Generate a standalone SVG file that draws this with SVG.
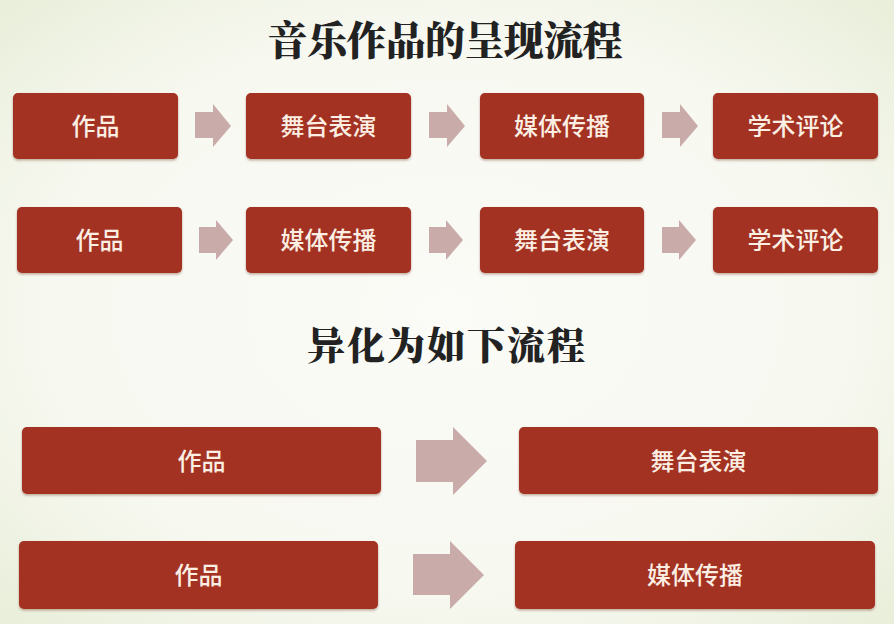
<svg xmlns="http://www.w3.org/2000/svg" width="894" height="624" viewBox="0 0 894 624">
<defs>
<radialGradient id="bg" cx="0.5" cy="0.5" r="0.75">
<stop offset="0" stop-color="#fbfbf7"/>
<stop offset="0.6" stop-color="#f7f8f0"/>
<stop offset="1" stop-color="#e6edd6"/>
</radialGradient>
<filter id="sh" x="-5%" y="-10%" width="110%" height="125%">
<feDropShadow dx="0" dy="1.5" stdDeviation="1.2" flood-color="#5a1a10" flood-opacity="0.35"/>
</filter>
</defs>
<style>
.box{fill:#a33020;filter:url(#sh)}
.lbl{fill:#fbeee2;font-family:"Noto Sans CJK SC","Noto Sans",sans-serif;font-size:24px;font-weight:500;text-anchor:middle;dominant-baseline:central}
.arr{fill:#c9acaa}
.title{fill:#222;font-family:"Noto Serif CJK SC","Noto Sans CJK SC",serif;font-weight:900;text-anchor:middle}
</style>
<rect width="894" height="624" fill="url(#bg)"/>
<text class="title" x="445" y="55" font-size="40" textLength="355" lengthAdjust="spacing">音乐作品的呈现流程</text>
<text class="title" x="446" y="359" font-size="38" textLength="278" lengthAdjust="spacing">异化为如下流程</text>

<g id="connectors">
<polygon class="arr" points="195,112 213,112 213,104 231,126 213,147 213,138 195,138"/>
<polygon class="arr" points="429,112 447,112 447,104 465,126 447,147 447,138 429,138"/>
<polygon class="arr" points="662,112 680,112 680,104 698,126 680,147 680,138 662,138"/>
<polygon class="arr" points="199,227 216,227 216,220 233,240 216,260 216,253 199,253"/>
<polygon class="arr" points="429,227 446,227 446,220 463,240 446,260 446,253 429,253"/>
<polygon class="arr" points="662,227 679,227 679,220 696,240 679,260 679,253 662,253"/>
<polygon class="arr" points="416,440 453,440 453,427 487,461 453,495 453,482 416,482"/>
<polygon class="arr" points="413,554 450,554 450,541 484,575 450,609 450,595 413,595"/>
</g>

<g id="n1"><rect class="box" x="13" y="93" width="165" height="66" rx="5"/><text class="lbl" x="95.5" y="124">作品</text></g>
<g id="n2"><rect class="box" x="246" y="93" width="165" height="66" rx="5"/><text class="lbl" x="328.5" y="124">舞台表演</text></g>
<g id="n3"><rect class="box" x="480" y="93" width="164" height="66" rx="5"/><text class="lbl" x="562" y="124">媒体传播</text></g>
<g id="n4"><rect class="box" x="713" y="93" width="165" height="66" rx="5"/><text class="lbl" x="795.5" y="124">学术评论</text></g>

<g id="n5"><rect class="box" x="17" y="207" width="165" height="66" rx="5"/><text class="lbl" x="99.5" y="238">作品</text></g>
<g id="n6"><rect class="box" x="246" y="207" width="165" height="66" rx="5"/><text class="lbl" x="328.5" y="238">媒体传播</text></g>
<g id="n7"><rect class="box" x="480" y="207" width="164" height="66" rx="5"/><text class="lbl" x="562" y="238">舞台表演</text></g>
<g id="n8"><rect class="box" x="713" y="207" width="165" height="66" rx="5"/><text class="lbl" x="795.5" y="238">学术评论</text></g>

<g id="n9"><rect class="box" x="22" y="427" width="359" height="67" rx="5"/><text class="lbl" x="201.5" y="459">作品</text></g>
<g id="n10"><rect class="box" x="519" y="427" width="359" height="67" rx="5"/><text class="lbl" x="698.5" y="459">舞台表演</text></g>
<g id="n11"><rect class="box" x="19" y="541" width="359" height="68" rx="5"/><text class="lbl" x="198.5" y="573">作品</text></g>
<g id="n12"><rect class="box" x="515" y="541" width="360" height="68" rx="5"/><text class="lbl" x="695" y="573">媒体传播</text></g>
</svg>
